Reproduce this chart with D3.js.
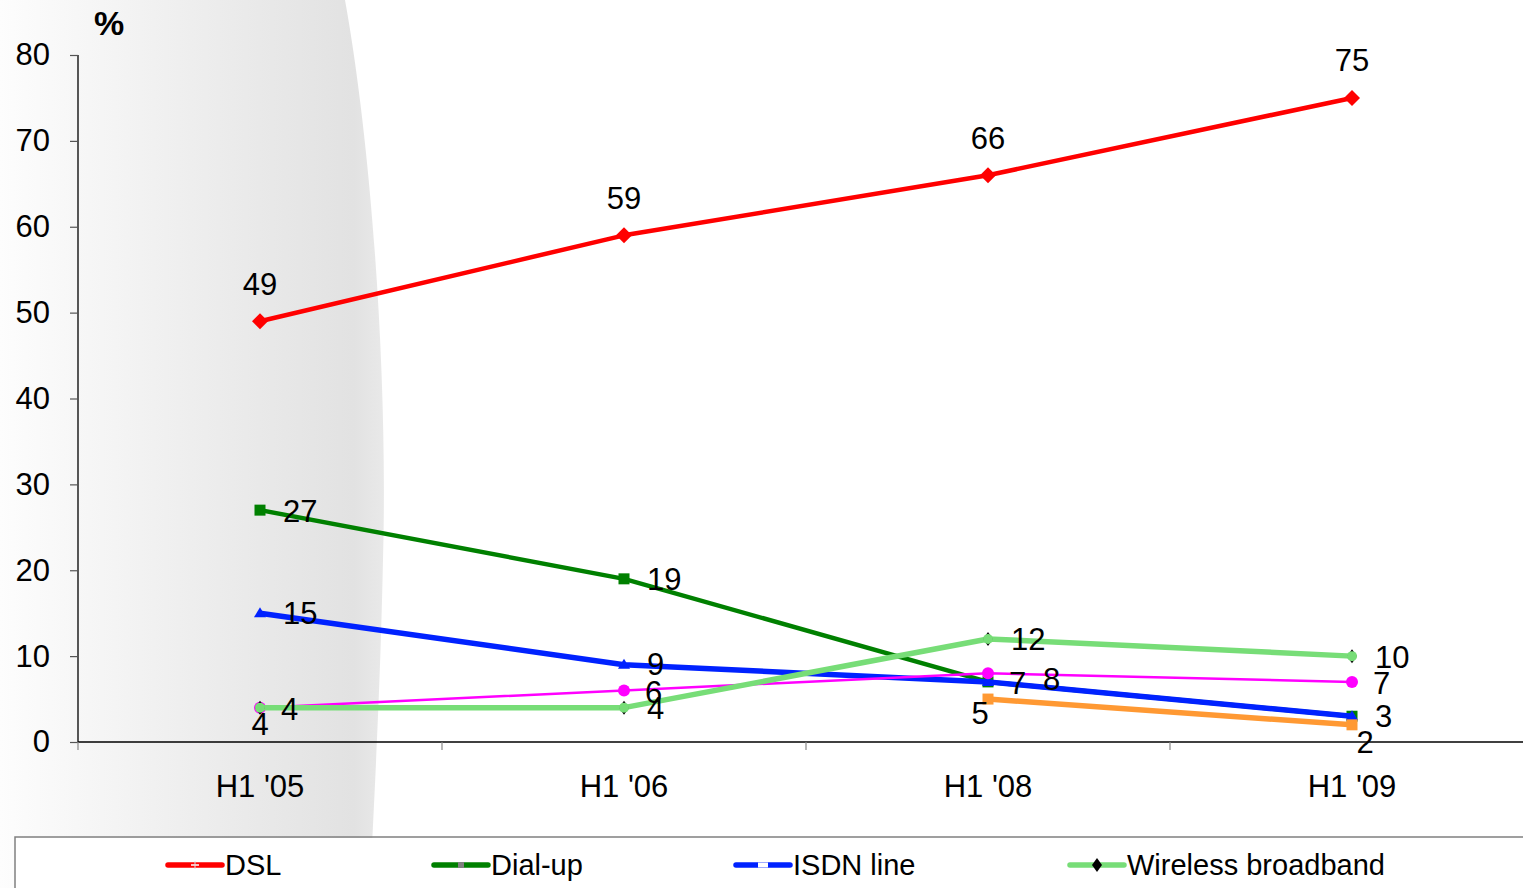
<!DOCTYPE html>
<html><head><meta charset="utf-8">
<script src="https://cdn.jsdelivr.net/npm/d3@7/dist/d3.min.js"></script>
<style>
html,body{margin:0;padding:0;background:#fff;}
svg{display:block;font-family:"Liberation Sans",Arial,sans-serif;}
</style></head>
<body>
<script>
const categories = ["H1 '05", "H1 '06", "H1 '08", "H1 '09"];
const yTicks = [0, 10, 20, 30, 40, 50, 60, 70, 80];
const dsl = [49, 59, 66, 75];
const dialup = [27, 19, 7, 3];
const isdn = [15, 9, 7, 3];
const other = [4, 6, 8, 7];
const wireless = [4, 4, 12, 10];
const other2 = [null, null, 5, 2];
const legendNames = ["DSL", "Dial-up", "ISDN line", "Wireless broadband"];

const W = 1523, H = 888;
const FS = 31;
const svg = d3.select("body").append("svg").attr("width", W).attr("height", H);

// background shaded panel
const defs = svg.append("defs");
const grad = defs.append("linearGradient").attr("id", "bg").attr("x1", "0").attr("x2", "1").attr("y1", "0").attr("y2", "0");
grad.append("stop").attr("offset", "0").attr("stop-color", "#fdfdfd");
grad.append("stop").attr("offset", "0.5").attr("stop-color", "#eeeeee");
grad.append("stop").attr("offset", "0.92").attr("stop-color", "#e2e2e2");
grad.append("stop").attr("offset", "1").attr("stop-color", "#e9e9e9");
svg.append("path")
  .attr("d", "M0,0 L345,0 C372,150 388,380 383,560 C380,700 374,800 370,888 L0,888 Z")
  .attr("fill", "url(#bg)");

const x = d3.scaleBand().domain(categories).range([78, 1534]).padding(0);
const y = d3.scaleLinear().domain([0, 80]).range([742, 55]);
const cx = c => x(c) + x.bandwidth() / 2;

// y axis
const yAxis = svg.append("g").attr("transform", "translate(78,0)")
  .call(d3.axisLeft(y).tickValues(yTicks).tickSize(8).tickPadding(20));
yAxis.select(".domain").attr("stroke", "#000").attr("stroke-width", 1.3).attr("d", "M0,742V55");
yAxis.selectAll(".tick line").attr("stroke", "#555").attr("stroke-width", 1.2);
yAxis.selectAll("text").attr("font-size", FS).attr("fill", "#000")
  .attr("font-family", "'Liberation Sans',Arial,sans-serif");

// x axis
const xAxis = svg.append("g").attr("transform", "translate(0,742)")
  .call(d3.axisBottom(x).tickSize(0).tickPadding(33));
xAxis.select(".domain").attr("stroke", "#000").attr("stroke-width", 1.5).attr("d", "M78,0H1523");
xAxis.selectAll("text").attr("font-size", FS).attr("fill", "#000")
  .attr("font-family", "'Liberation Sans',Arial,sans-serif");
xAxis.selectAll(".tickmark").data(categories).enter().append("line")
  .attr("x1", d => x(d)).attr("x2", d => x(d)).attr("y1", 0).attr("y2", 8)
  .attr("stroke", "#888").attr("stroke-width", 1.2);

svg.append("text").attr("x", 94).attr("y", 35).attr("font-size", 34).attr("font-weight", "bold").text("%");

const series = [
  { vals: dialup, color: "#008000", w: 4.5, marker: "square", size: 11 },
  { vals: isdn, color: "#0022ff", w: 5.5, marker: "triangle", size: 12 },
  { vals: other, color: "#ff00ff", w: 2.5, marker: "circle", size: 12 },
  { vals: other2, color: "#ff9933", w: 5.5, marker: "square", size: 11 },
  { vals: wireless, color: "#77dd77", w: 5.5, marker: "wdiamond", size: 12 },
  { vals: dsl, color: "#ff0000", w: 4.5, marker: "diamond", size: 16 }
];

const line = d3.line().defined(d => d.v != null).x(d => cx(d.c)).y(d => y(d.v));

function drawMarker(g, m, px, py, s, color) {
  if (m === "diamond") {
    g.append("path").attr("d", `M${px},${py - s / 2}L${px + s / 2},${py}L${px},${py + s / 2}L${px - s / 2},${py}Z`).attr("fill", color);
  } else if (m === "wdiamond") {
    g.append("path").attr("d", `M${px},${py - 7}L${px + 5},${py}L${px},${py + 7}L${px - 5},${py}Z`).attr("fill", "#000");
    g.append("circle").attr("cx", px).attr("cy", py).attr("r", 5).attr("fill", color);
  } else if (m === "square") {
    g.append("rect").attr("x", px - s / 2).attr("y", py - s / 2).attr("width", s).attr("height", s).attr("fill", color);
  } else if (m === "triangle") {
    g.append("path").attr("d", `M${px},${py - s / 2}L${px + s / 2},${py + s / 2 - 2}L${px - s / 2},${py + s / 2 - 2}Z`).attr("fill", color);
  } else if (m === "circle") {
    g.append("circle").attr("cx", px).attr("cy", py).attr("r", s / 2).attr("fill", color);
  }
}

series.forEach(s => {
  const pts = categories.map((c, i) => ({ c, v: s.vals[i] }));
  svg.append("path").datum(pts).attr("d", line).attr("fill", "none")
    .attr("stroke", s.color).attr("stroke-width", s.w).attr("stroke-linejoin", "round");
  const g = svg.append("g");
  pts.filter(d => d.v != null).forEach(d => drawMarker(g, s.marker, cx(d.c), y(d.v), s.size, s.color));
});

// data labels
const labG = svg.append("g").attr("font-size", FS).attr("fill", "#000");
function label(px, py, txt, anchor) {
  labG.append("text").attr("x", px).attr("y", py).attr("text-anchor", anchor || "start")
    .attr("dominant-baseline", "central").text(txt);
}
dsl.forEach((v, i) => label(cx(categories[i]), y(v) - 37, v, "middle"));
dialup.forEach((v, i) => { if (i < 2) label(cx(categories[i]) + 23, y(v) + 1, v); });
isdn.forEach((v, i) => { if (i !== 2) label(cx(categories[i]) + 23, y(v), v); else label(cx(categories[i]) + 21, y(v) + 2, v); });
other.forEach((v, i) => {
  if (i === 2) label(cx(categories[i]) + 55, y(v) + 6, v);
  else label(cx(categories[i]) + 21, y(v) + 2, v);
});
wireless.forEach((v, i) => {
  if (i === 0) label(cx(categories[i]), y(v) + 17, v, "middle");
  else label(cx(categories[i]) + 23, y(v) + 1, v);
});
other2.forEach((v, i) => {
  if (v == null) return;
  if (i === 2) label(cx(categories[i]) - 8, y(v) + 14, v, "middle");
  else label(cx(categories[i]) + 13, y(v) + 18, v, "middle");
});

// legend
svg.append("path").attr("d", "M15,888V837H1523").attr("fill", "none").attr("stroke", "#808080").attr("stroke-width", 1.5);
svg.append("rect").attr("x", 16).attr("y", 838).attr("width", W - 16).attr("height", 50).attr("fill", "#fff");
const legX = [168, 434, 736, 1070];
const legColors = ["#ff0000", "#008000", "#0022ff", "#77dd77"];
const lg = svg.append("g");
legendNames.forEach((n, i) => {
  const lx = legX[i], ly = 865;
  lg.append("line").attr("x1", lx).attr("x2", lx + 54).attr("y1", ly).attr("y2", ly)
    .attr("stroke", legColors[i]).attr("stroke-width", 5.5).attr("stroke-linecap", "round");
  const mx = lx + 27;
  if (i === 0) {
    lg.append("line").attr("x1", mx - 4).attr("x2", mx + 4).attr("y1", ly).attr("y2", ly).attr("stroke", "#fff").attr("stroke-width", 1.5);
    lg.append("line").attr("x1", mx).attr("x2", mx).attr("y1", ly - 4).attr("y2", ly + 4).attr("stroke", "#ddd").attr("stroke-width", 1);
  } else if (i === 1) {
    lg.append("rect").attr("x", mx - 3).attr("y", ly - 3).attr("width", 6).attr("height", 6).attr("fill", "#808080");
  } else if (i === 2) {
    lg.append("rect").attr("x", mx - 5).attr("y", ly - 2.5).attr("width", 10).attr("height", 5).attr("fill", "#fff");
  } else {
    lg.append("path").attr("d", `M${mx},${ly - 7}L${mx + 5},${ly}L${mx},${ly + 7}L${mx - 5},${ly}Z`).attr("fill", "#000");
  }
  lg.append("text").attr("x", lx + 57).attr("y", ly).attr("dominant-baseline", "central")
    .attr("font-size", 29).attr("fill", "#000").text(n);
});
</script>
</body></html>
